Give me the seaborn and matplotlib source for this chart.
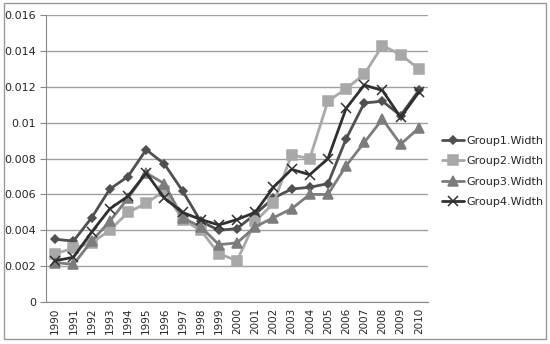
import numpy as np
import pandas as pd
import matplotlib.pyplot as plt
import seaborn as sns

# datos
years = list(range(1990, 2011))
group1 = [0.0035, 0.0034, 0.0047, 0.0063, 0.0070, 0.0085, 0.0077, 0.0062, 0.0045, 0.0040, 0.0041,
          0.0049, 0.0058, 0.0063, 0.0064, 0.0066, 0.0091, 0.0111, 0.0112, 0.0104, 0.0118]
group2 = [0.0027, 0.0030, 0.0033, 0.0040, 0.0050, 0.0055, 0.0062, 0.0046, 0.0040, 0.0027, 0.0023,
          0.0045, 0.0055, 0.0082, 0.0080, 0.0112, 0.0119, 0.0127, 0.0143, 0.0138, 0.0130]
group3 = [0.0022, 0.0021, 0.0034, 0.0045, 0.0058, 0.0072, 0.0066, 0.0047, 0.0042, 0.0032, 0.0033,
          0.0042, 0.0047, 0.0052, 0.0060, 0.0060, 0.0076, 0.0089, 0.0102, 0.0088, 0.0097]
group4 = [0.0023, 0.0025, 0.0039, 0.0052, 0.0059, 0.0072, 0.0058, 0.0050, 0.0046, 0.0043, 0.0046,
          0.0050, 0.0064, 0.0074, 0.0071, 0.0080, 0.0108, 0.0121, 0.0118, 0.0103, 0.0117]
names = ["Group1.Width", "Group2.Width", "Group3.Width", "Group4.Width"]

df = pd.DataFrame({"year": years * 4,
                   "value": group1 + group2 + group3 + group4,
                   "serie": np.repeat(names, len(years))})
df["pos"] = df["year"] - years[0]

sns.set_style("white")
fig = plt.figure(figsize=(5.5, 3.44), dpi=100)
ax = fig.add_axes([0.084, 0.122, 0.694, 0.834])

colores = ["#505050", "#a8a8a8", "#7c7c7c", "#303030"]
marcadores = ["D", "s", "^", "x"]
tamanos = [4.5, 6.5, 6.5, 6.5]

for nombre, color, m, t in zip(names, colores, marcadores, tamanos):
    d = df[df["serie"] == nombre]
    sns.lineplot(data=d, x="pos", y="value", ax=ax, color=color, marker=m,
                 markersize=t, linewidth=2.0, markeredgecolor=color,
                 markeredgewidth=1.1, label=nombre)

ax.set_xlim(-0.5, len(years) - 0.5)
ax.set_ylim(0, 0.016)
ax.set_yticks(np.arange(0, 0.0161, 0.002))
ax.set_yticklabels(["0", "0.002", "0.004", "0.006", "0.008", "0.01", "0.012", "0.014", "0.016"])
ax.set_xticks(range(len(years)))
ax.set_xticklabels([str(y) for y in years], rotation=90)
ax.set_xticks(np.arange(-0.5, len(years), 1), minor=True)
ax.tick_params(axis="x", which="major", length=0, labelsize=7.5, pad=4)
ax.tick_params(axis="x", which="minor", length=4, color="#888888", direction="out")
ax.tick_params(axis="y", length=4, color="#888888", labelsize=8, left=True, direction="out")
ax.yaxis.grid(True, color="#a0a0a0", linewidth=1)
ax.set_axisbelow(True)
for s in ["top", "right"]:
    ax.spines[s].set_visible(False)
ax.spines["left"].set_color("#888888")
ax.spines["bottom"].set_color("#888888")
ax.set_xlabel("")
ax.set_ylabel("")

leg = ax.legend(loc="center left", bbox_to_anchor=(1.01, 0.455), frameon=False,
                fontsize=8, handlelength=2.0, labelspacing=0.95, handletextpad=0.2)

# marco exterior
fig.patches.append(plt.Rectangle((0.008, 0.015), 0.984, 0.975, transform=fig.transFigure,
                                 fill=False, edgecolor="#999999", linewidth=1))

fig.savefig("out.png", dpi=100)
